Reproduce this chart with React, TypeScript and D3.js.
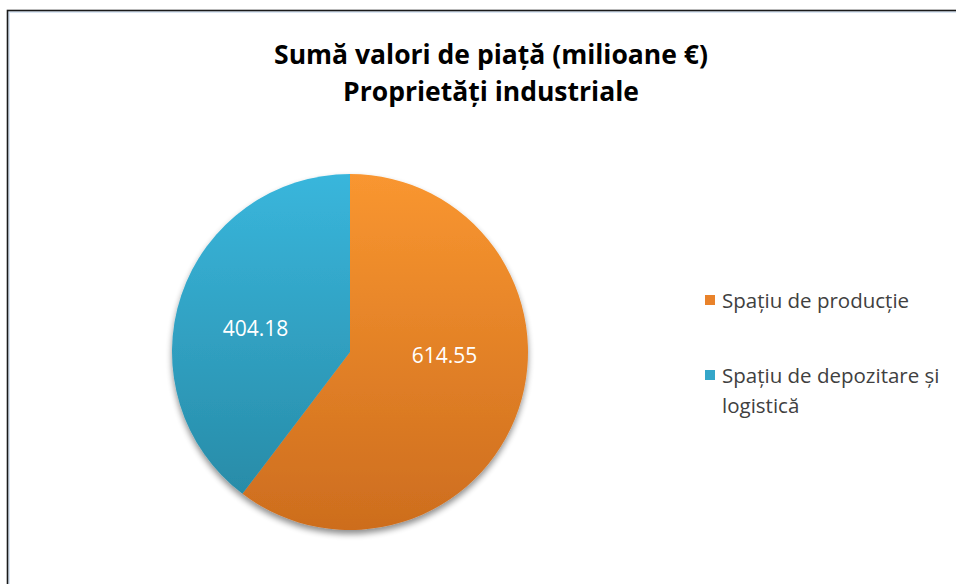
import { useMemo } from "react";
import * as d3 from "d3";

const TITLE_LINES = ["Sumă valori de piață (milioane €)", "Proprietăți industriale"];
const CATEGORIES = ["Spațiu de producție", "Spațiu de depozitare și logistică"];
const VALUES = [614.55, 404.18];
const LEGEND_LINES = [["Spațiu de producție"], ["Spațiu de depozitare și", "logistică"]];

const GRADIENTS = [
    ["#f99630", "#cd6d1e"],
    ["#39b6dc", "#2687a2"],
];
const SWATCH = ["#e9822a", "#34a6c9"];

const FONT = "'Open Sans', 'Noto Sans', sans-serif";

export default function App() {
    const W = 956;
    const H = 584;
    const cx = 350;
    const cy = 352;
    const r = 178;

    const arcs = useMemo(() => {
        const pie = d3
            .pie<number>()
            .sort(null)
            .value((d) => d);
        return pie(VALUES);
    }, []);

    const arc = d3.arc<d3.PieArcDatum<number>>().innerRadius(0).outerRadius(r);
    const labelArc = d3.arc<d3.PieArcDatum<number>>().innerRadius(r * 0.56).outerRadius(r * 0.56);

    // Excel style label placement: pulled toward the horizontal
    const labelPos = (d: d3.PieArcDatum<number>) => {
        const [lx, ly] = labelArc.centroid(d);
        const mid = (d.startAngle + d.endAngle) / 2;
        const squash = mid < Math.PI ? 0.1 : 0.72;
        return [lx, ly * squash];
    };

    return (
        <svg width={W} height={H} style={{ position: "absolute", left: 0, top: 0 }}>
            <defs>
                {GRADIENTS.map((g, i) => (
                    <linearGradient key={i} id={`grad-${i}`} gradientUnits="userSpaceOnUse" x1={0} y1={-r} x2={0} y2={r}>
                        <stop offset="0%" stopColor={g[0]} />
                        <stop offset="100%" stopColor={g[1]} />
                    </linearGradient>
                ))}
                <filter id="shadow" x="-20%" y="-20%" width="140%" height="140%">
                    <feGaussianBlur in="SourceAlpha" stdDeviation="3" />
                    <feOffset dx="0" dy="4" result="off" />
                    <feComponentTransfer>
                        <feFuncA type="linear" slope="0.45" />
                    </feComponentTransfer>
                    <feMerge>
                        <feMergeNode />
                        <feMergeNode in="SourceGraphic" />
                    </feMerge>
                </filter>
            </defs>
            <rect x={0} y={0} width={W} height={H} fill="#fff" />
            <rect x={8.5} y={11.5} width={W + 20} height={H + 20} fill="none" stroke="#dbe6f3" strokeWidth={3} />
            <rect x={7.5} y={10.5} width={W + 20} height={H + 20} fill="none" stroke="#1a1a1a" strokeWidth={1.6} />

            <g fontFamily={FONT} fontWeight="bold" fontSize={26.5} fill="#000" textAnchor="middle">
                {TITLE_LINES.map((t, i) => (
                    <text key={i} x={491} y={64 + i * 37}>
                        {t}
                    </text>
                ))}
            </g>

            <g transform={`translate(${cx},${cy})`} filter="url(#shadow)">
                {arcs.map((d, i) => (
                    <path key={i} d={arc(d) ?? ""} fill={`url(#grad-${i})`} />
                ))}
            </g>
            <g fontFamily={FONT} fontSize={21} fill="#fff" textAnchor="middle">
                {arcs.map((d, i) => {
                    const [lx, ly] = labelPos(d);
                    return (
                        <text key={i} x={cx + lx} y={cy + ly} dy="0.35em">
                            {VALUES[i].toFixed(2)}
                        </text>
                    );
                })}
            </g>

            <g fontFamily={FONT} fontSize={20.5} fill="#404040">
                {CATEGORIES.map((c, i) => {
                    const y0 = 301 + i * 75;
                    return (
                        <g key={c}>
                            <rect x={705} y={y0 - 6} width={10} height={10} fill={SWATCH[i]} />
                            {LEGEND_LINES[i].map((ln, j) => (
                                <text key={j} x={722} y={y0 + j * 30} dy="0.35em">
                                    {ln}
                                </text>
                            ))}
                        </g>
                    );
                })}
            </g>
        </svg>
    );
}
